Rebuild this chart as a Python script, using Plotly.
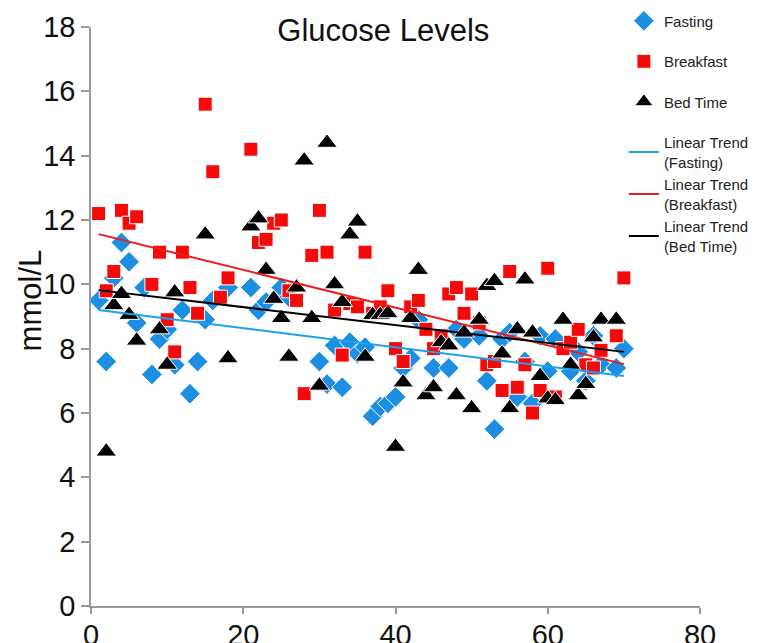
import plotly.graph_objects as go

# ---- data ----
fasting_day = [1, 2, 3, 4, 5, 6, 7, 8, 9, 10, 11, 12, 13, 14, 15, 16, 18, 21, 22, 23, 25, 26,
               30, 31, 32, 33, 34, 35, 36, 37, 38, 39, 40, 41, 42, 43, 45, 47, 48, 49, 51, 52,
               53, 54, 55, 56, 57, 58, 59, 60, 61, 63, 64, 65, 66, 67, 69, 70]
fasting_val = [9.5, 7.6, 10.2, 11.3, 10.7, 8.8, 9.9, 7.2, 8.3, 8.6, 7.5, 9.2, 6.6, 7.6, 8.9, 9.5, 9.9, 9.9, 9.2, 9.45, 9.9, 9.6,
               7.6, 6.9, 8.1, 6.8, 8.2, 7.85, 8.05, 5.9, 6.2, 6.3, 6.5, 7.4, 7.7, 8.9, 7.4, 7.4, 8.6, 8.3, 8.4, 7.0,
               5.5, 8.3, 8.5, 6.5, 7.6, 6.3, 8.4, 7.3, 8.3, 7.3, 7.9, 7.0, 8.4, 7.5, 7.4, 8.0]

breakfast_day = [1, 2, 3, 4, 5, 6, 8, 9, 10, 11, 12, 13, 14, 15, 16, 17, 18, 21, 22, 23, 24, 25,
                 26, 27, 28, 29, 30, 31, 32, 33, 34, 35, 36, 37, 38, 39, 40, 41, 42, 43, 44, 45,
                 46, 47, 48, 49, 50, 51, 52, 53, 54, 55, 56, 57, 58, 59, 60, 61, 62, 63, 64, 65,
                 66, 67, 69, 70]
breakfast_val = [12.2, 9.8, 10.4, 12.3, 11.9, 12.1, 10.0, 11.0, 8.9, 7.9, 11.0, 9.9, 9.1, 15.6, 13.5, 9.6, 10.2, 14.2, 11.3, 11.4, 11.9, 12.0,
                 9.8, 9.5, 6.6, 10.9, 12.3, 11.0, 9.2, 7.8, 9.4, 9.3, 11.0, 9.1, 9.3, 9.8, 8.0, 7.6, 9.3, 9.5, 8.6, 8.0,
                 8.4, 9.7, 9.9, 9.1, 9.7, 8.8, 7.5, 7.6, 6.7, 10.4, 6.8, 7.5, 6.0, 6.7, 10.5, 6.5, 8.0, 8.2, 8.6, 7.5,
                 7.4, 7.95, 8.4, 10.2]

bedtime_day = [2, 3, 4, 5, 6, 9, 10, 11, 15, 18, 21, 22, 23, 24, 25, 26, 27, 28, 29, 30, 31, 32,
               33, 34, 35, 36, 37, 38, 39, 40, 41, 42, 43, 44, 45, 46, 47, 48, 49, 50, 51, 52,
               53, 54, 55, 56, 57, 58, 59, 60, 61, 62, 63, 64, 65, 66, 67, 69]
bedtime_val = [4.8, 9.35, 9.7, 9.05, 8.25, 8.6, 7.5, 9.75, 11.55, 7.7, 11.8, 12.05, 10.45, 9.55, 8.95, 7.75, 9.9, 13.85, 8.95, 6.85, 14.4, 10.0,
               9.45, 11.55, 11.95, 7.75, 9.05, 9.05, 9.1, 4.95, 6.95, 8.95, 10.45, 6.55, 6.8, 8.2, 8.1, 6.55, 8.5, 6.15, 8.9, 9.95,
               10.1, 7.85, 6.15, 8.6, 10.15, 8.5, 7.15, 6.45, 6.4, 8.9, 7.5, 6.55, 6.9, 8.35, 8.9, 8.9]

trend_day = [1, 70]
trend_fasting = [9.2, 7.15]
trend_breakfast = [11.56, 7.52]
trend_bedtime = [9.82, 7.9]

x_ticks = [0, 20, 40, 60, 80]
y_ticks = [0, 2, 4, 6, 8, 10, 12, 14, 16, 18]

FONT = "Liberation Sans, Arial, sans-serif"
BLUE = "#1c8fe3"
RED = "#f50a0a"
BLACK = "#000000"

fig = go.Figure()
fig.add_trace(go.Scatter(x=fasting_day, y=fasting_val, mode="markers", name="Fasting",
                         legendgroup="g1",
                         marker=dict(symbol="diamond", size=16, color=BLUE,
                                     line=dict(color="white", width=1))))
fig.add_trace(go.Scatter(x=breakfast_day, y=breakfast_val, mode="markers", name="Breakfast",
                         legendgroup="g2",
                         marker=dict(symbol="square", size=14, color=RED,
                                     line=dict(color="white", width=1))))
fig.add_trace(go.Scatter(x=bedtime_day, y=bedtime_val, mode="markers", name="Bed Time",
                         legendgroup="g3",
                         marker=dict(symbol="triangle-up", size=18, color=BLACK,
                                     line=dict(color="white", width=1))))
fig.add_trace(go.Scatter(x=trend_day, y=trend_fasting, mode="lines", name="Linear Trend<br>(Fasting)",
                         legendgroup="g4", line=dict(color="#1aa3ec", width=2)))
fig.add_trace(go.Scatter(x=trend_day, y=trend_breakfast, mode="lines", name="Linear Trend<br>(Breakfast)",
                         legendgroup="g4", line=dict(color="#ee1c1c", width=2)))
fig.add_trace(go.Scatter(x=trend_day, y=trend_bedtime, mode="lines", name="Linear Trend<br>(Bed Time)",
                         legendgroup="g4", line=dict(color=BLACK, width=2)))

fig.update_layout(
    width=758, height=643,
    margin=dict(l=91, r=58, t=27, b=37, autoexpand=False),
    paper_bgcolor="white", plot_bgcolor="white",
    font=dict(family=FONT, color="#111111"),
    title=dict(text="Glucose Levels", x=0.48, xref="paper", xanchor="center",
               y=0.953, yref="container", yanchor="middle", automargin=False,
               font=dict(size=31, family=FONT, color="#111111")),
    showlegend=True,
    legend=dict(x=0.875, xanchor="left", y=1.0388, yanchor="top",
                bgcolor="rgba(0,0,0,0)", font=dict(size=15, family=FONT, color="#222222"),
                traceorder="grouped", tracegroupgap=18, itemsizing="trace"),
    xaxis=dict(range=[0, 80], tickvals=x_ticks, showgrid=False, zeroline=False,
               showline=True, linecolor="#9a9a9a", linewidth=1.5, automargin=False,
               ticks="outside", ticklen=6, tickcolor="#9a9a9a", tickwidth=1.5,
               ticklabelstandoff=-4,
               tickfont=dict(size=29, family=FONT, color="#111111")),
    yaxis=dict(range=[0, 18], tickvals=y_ticks, showgrid=False, zeroline=False,
               showline=True, linecolor="#9a9a9a", linewidth=1.5, automargin=False,
               ticks="outside", ticklen=8, tickcolor="#9a9a9a", tickwidth=1.5,
               tickfont=dict(size=29, family=FONT, color="#111111")),
    annotations=[dict(text="mmol/L", textangle=-90, xref="paper", yref="paper",
                      x=-0.1, y=0.528, xanchor="center", yanchor="middle", showarrow=False,
                      font=dict(size=31, family=FONT, color="#111111"))],
)

fig.write_html("out.html", config={"displayModeBar": False},
               post_script="document.body.style.margin='0';document.body.style.padding='0';")
